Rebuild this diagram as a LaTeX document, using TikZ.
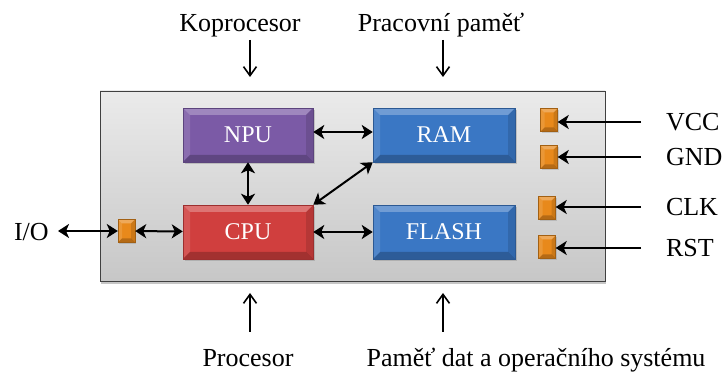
\documentclass[tikz,border=0pt]{standalone}
\usepackage{fontspec}
\setmainfont{Liberation Serif}
\usepackage{xcolor}
\definecolor{colorNPU}{HTML}{7B5AA6}
\definecolor{colorCPU}{HTML}{D03F3E}
\definecolor{colorMem}{HTML}{3A77C4}
\definecolor{colorPin}{HTML}{E8891B}
\usepackage{tikz}
\usetikzlibrary{arrows.meta, shadows, positioning}
\tikzset{
  bevel/.style={path picture={
    \fill[white, opacity=0.28] (path picture bounding box.north west) -- (path picture bounding box.north east)
      -- ([xshift=-#1, yshift=-#1]path picture bounding box.north east) -- ([xshift=#1, yshift=-#1]path picture bounding box.north west) -- cycle;
    \fill[white, opacity=0.12] (path picture bounding box.north west) -- ([xshift=#1, yshift=-#1]path picture bounding box.north west)
      -- ([xshift=#1, yshift=#1]path picture bounding box.south west) -- (path picture bounding box.south west) -- cycle;
    \fill[black, opacity=0.22] (path picture bounding box.south west) -- (path picture bounding box.south east)
      -- ([xshift=-#1, yshift=#1]path picture bounding box.south east) -- ([xshift=#1, yshift=#1]path picture bounding box.south west) -- cycle;
    \fill[black, opacity=0.12] (path picture bounding box.north east) -- ([xshift=-#1, yshift=-#1]path picture bounding box.north east)
      -- ([xshift=-#1, yshift=#1]path picture bounding box.south east) -- (path picture bounding box.south east) -- cycle;
  }},
  blok/.style={draw=#1!75!black, line width=0.5pt, fill=#1, bevel=7pt, minimum width=130pt, minimum height=54pt,
    inner sep=0pt, text=white, font=\fontsize{24}{28}\selectfont,
    drop shadow={shadow xshift=1.5pt, shadow yshift=-2pt, opacity=0.35}},
  pin/.style={draw=colorPin!70!black, line width=0.4pt, fill=colorPin, bevel=4pt, minimum width=17pt, minimum height=23pt,
    inner sep=0pt, drop shadow={shadow xshift=1pt, shadow yshift=-1.5pt, opacity=0.3}},
  lbl/.style={font=\fontsize{26}{30}\selectfont, inner sep=0pt},
  sipka/.style={line width=2pt, -{Straight Barb[length=9pt, width=13pt, line width=1.6pt]}},
}

\begin{document}
\begin{tikzpicture}[x=1pt, y=-1pt, >={Stealth[length=11pt, width=14pt, inset=3pt]}, line width=2pt]
\useasboundingbox (0,0) rectangle (724,374);
% pouzdro cipu
\node[draw=black!75, line width=0.8pt, top color=black!8, bottom color=black!22, minimum width=505pt, minimum height=190pt,
  drop shadow={shadow xshift=1pt, shadow yshift=-3pt, opacity=0.45}] (cip) at (352.5,186) {};
% bloky
\node[blok=colorNPU] (npu) at (248,135) {NPU};
\node[blok=colorCPU] (cpu) at (248,232) {CPU};
\node[blok=colorMem, minimum width=142pt] (ram) at (444,135) {RAM};
\node[blok=colorMem, minimum width=142pt] (flash) at (444,232) {FLASH};
% piny
\node[pin] (pinIO) at (126.5,231) {};
\node[pin] (pinVCC) at (549,120) {};
\node[pin] (pinGND) at (549,157) {};
\node[pin] (pinCLK) at (547,208) {};
\node[pin] (pinRST) at (547,247) {};
% vnitrni spoje
\draw[<->] ([yshift=3pt]npu.east) -- ([yshift=3pt]ram.west);
\draw[<->] (npu) -- (cpu);
\draw[<->] (cpu.north east) -- (ram.south west);
\draw[<->] (cpu) -- (flash);
\draw[<->] (pinIO) -- (cpu);
% vnejsi signaly
\node[lbl, anchor=west] (io) at (13,232) {I/O};
\coordinate (ioKonec) at (58,231);
\draw[<->] (ioKonec) -- (pinIO);
\node[lbl, anchor=west] (vcc) at (665,122) {VCC};
\node[lbl, anchor=west] (gnd) at (665,157) {GND};
\node[lbl, anchor=west] (clk) at (665,207) {CLK};
\node[lbl, anchor=west] (rst) at (665,248) {RST};
\coordinate (vccKonec) at (641,122);
\coordinate (gndKonec) at (641,157);
\coordinate (clkKonec) at (641,207);
\coordinate (rstKonec) at (641,248);
\draw[->] (vccKonec) -- (pinVCC.east |- vccKonec);
\draw[->] (gndKonec) -- (pinGND.east |- gndKonec);
\draw[->] (clkKonec) -- (pinCLK.east |- clkKonec);
\draw[->] (rstKonec) -- (pinRST.east |- rstKonec);
% popisky
\node[lbl, anchor=base] (kopro) at (240,32) {Koprocesor};
\node[lbl, anchor=base] (pracmem) at (441,32) {Pracovní paměť};
\node[lbl, anchor=base] (proc) at (248,367) {Procesor};
\node[lbl, anchor=base] (datmem) at (536,367) {Paměť dat a operačního systému};
\coordinate (koproSip) at (250,40);
\coordinate (pracSip) at (443,40);
\coordinate (procSip) at (250,332);
\coordinate (datSip) at (443,332);
\draw[sipka] (koproSip) -- ++(0,37);
\draw[sipka] (pracSip) -- ++(0,37);
\draw[sipka] (procSip) -- ++(0,-39);
\draw[sipka] (datSip) -- ++(0,-39);
\end{tikzpicture}
\end{document}
